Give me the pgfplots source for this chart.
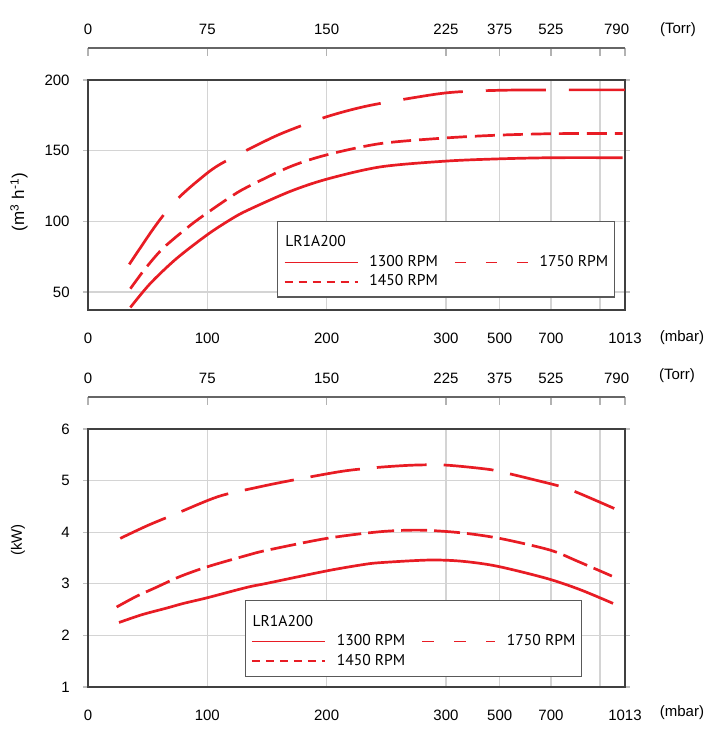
\documentclass[border=0pt]{standalone}
\usepackage{fontspec}
\setmainfont{Liberation Sans}
\newfontfamily\legfont{PT Sans}
\usepackage{pgfplots}
\usepackage{pgfplotstable}
\pgfplotsset{compat=1.18}
\definecolor{cred}{RGB}{232,28,36}

\pgfplotstableread{
u v
0.355 39
0.52 55.8
0.74 73.5
1.00 90.5
1.19 101
1.33 107.5
1.69 121
2.00 129.8
2.45 138.5
3.00 142.6
3.45 144.2
3.90 145
4.48 145
}\topA
\pgfplotstableread{
u v
0.355 52.3
0.48 66.5
0.63 81
0.855 97
1.00 106
1.19 117
1.33 124
1.69 138.5
2.00 147
2.45 155
3.00 159
3.45 161
3.90 162
4.48 162.2
}\topB
\pgfplotstableread{
u v
0.346 69.5
0.534 93.1
0.66 107.3
0.77 117.5
0.925 129
1.10 140
1.47 156.2
1.67 163.8
2.00 174
2.35 181.8
2.87 189.4
3.12 191.7
3.50 192.8
4.00 193
4.51 193
}\topC
\pgfplotstableread{
u v
0.26 2.25
0.45 2.40
0.66 2.53
0.80 2.62
1.00 2.73
1.33 2.93
1.50 3.01
2.00 3.25
2.30 3.37
2.45 3.41
2.85 3.46
3.12 3.44
3.42 3.345
3.84 3.107
4.12 2.89
4.40 2.62
}\botA
\pgfplotstableread{
u v
0.24 2.55
0.40 2.75
0.58 2.94
0.77 3.14
1.00 3.33
1.33 3.55
1.50 3.65
2.00 3.88
2.45 4.01
2.78 4.04
3.12 3.99
3.45 3.88
3.87 3.655
4.10 3.44
4.39 3.15
}\botB
\pgfplotstableread{
u v
0.27 3.88
0.50 4.13
0.73 4.35
1.09 4.69
1.40 4.86
1.65 4.98
2.00 5.13
2.19 5.20
2.45 5.26
2.73 5.30
3.00 5.30
3.35 5.22
3.50 5.15
3.75 5.01
3.97 4.88
4.12 4.75
4.41 4.46
}\botC

\pgfplotsset{
  mainax/.style={
    scale only axis, width=268.5pt, xmin=0, xmax=4.5,
    axis line style={black!75, line width=0.9pt},
    grid=major, grid style={black!17, line width=0.6pt},
    xtick={0,1,2,3,3.45,3.88,4.29,4.5},
    xticklabels={0,100,200,300,500,700,,1013},
    x tick style={draw=none},
    xticklabel style={yshift=-8pt},
    y tick style={black!25, line width=0.6pt},
    ytick align=outside, major tick length=2.5pt,
    yticklabel style={inner sep=0pt, xshift=-6.5pt},
    /pgf/number format/assume math mode=true,
    tick label style={font=\fontsize{7.5}{9}\selectfont},
    legend columns=3, transpose legend,
    legend style={draw=black!65, line width=0.6pt, fill=white,
      inner xsep=3pt, inner ysep=4pt,
      font=\legfont\fontsize{7.8}{9}\selectfont,
      row sep=2.5pt, column sep=5.5pt,
      /tikz/every even column/.append style={column sep=8pt},
      nodes={inner sep=0pt, text height=5.6pt, text depth=1.6pt},
      cells={anchor=west}},
  },
  torrax/.style={
    scale only axis, width=268.5pt, height=10pt, xmin=0, xmax=4.5, ymin=0, ymax=1,
    axis x line=top, axis y line=none,
    axis line style={-, black!60, line width=0.6pt},
    xtick={0,1,2,3,3.45,3.88,4.29,4.5},
    xticklabels={0,75,150,225,375,525,,},
    extra x ticks={4.43}, extra x tick labels={790},
    extra x tick style={major tick length=0pt},
    xtick align=inside, major tick length=4pt,
    x tick style={black!30, line width=0.6pt},
    xticklabel style={font=\fontsize{7.5}{9}\selectfont, yshift=3pt},
  },
  ttl/.style={legend image code/.code={\path (0pt,6.5pt); \node[anchor=west, inner sep=0pt] at (0pt,0pt) {LR1A200};}},
  lg/.style={legend image code/.code={\draw[cred, line width=0.8pt, #1] (0pt,0pt) -- (36.5pt,0pt);}},
}

\begin{document}
\begin{tikzpicture}
\path[use as bounding box] (0,0) rectangle (363pt,365pt);

% ---------- top panel ----------
\begin{axis}[torrax, at={(44pt,341pt)}, anchor=north west]
\addplot[draw=none] coordinates {(0,0)};
\end{axis}
\begin{axis}[mainax, height=115pt, at={(44pt,210pt)}, anchor=south west,
  ymin=37.2, ymax=200, ytick={50,100,150,200},
  legend style={at={(0.3525,0.388)}, anchor=north west}]
\addplot[cred, line width=1.35pt, smooth, forget plot] table[x=u,y=v] {\topA};
\addplot[cred, line width=1.35pt, smooth, dash pattern=on 10pt off 4pt, forget plot] table[x=u,y=v] {\topB};
\addplot[cred, line width=1.35pt, smooth, dash pattern=on 30pt off 11.5pt, forget plot] table[x=u,y=v] {\topC};
\addlegendimage{ttl}\addlegendentry{}
\addlegendimage{lg={solid}}\addlegendentry{1300 RPM}
\addlegendimage{lg={dash pattern=on 4pt off 3pt}}\addlegendentry{1450 RPM}
\addlegendimage{empty legend}\addlegendentry{}
\addlegendimage{lg={dash pattern=on 5.5pt off 10pt}}\addlegendentry{1750 RPM}
\addlegendimage{empty legend}\addlegendentry{}
\end{axis}

% ---------- bottom panel ----------
\begin{axis}[torrax, at={(44pt,166.5pt)}, anchor=north west]
\addplot[draw=none] coordinates {(0,0)};
\end{axis}
\begin{axis}[mainax, height=129pt, at={(44pt,21.5pt)}, anchor=south west,
  ymin=1, ymax=6, ytick={1,2,3,4,5,6},
  legend style={at={(0.2916,0.337)}, anchor=north west}]
\addplot[cred, line width=1.35pt, smooth, forget plot] table[x=u,y=v] {\botA};
\addplot[cred, line width=1.35pt, smooth, dash pattern=on 13pt off 3.5pt, forget plot] table[x=u,y=v] {\botB};
\addplot[cred, line width=1.35pt, smooth, dash pattern=on 25pt off 8.5pt, forget plot] table[x=u,y=v] {\botC};
\addlegendimage{ttl}\addlegendentry{}
\addlegendimage{lg={solid}}\addlegendentry{1300 RPM}
\addlegendimage{lg={dash pattern=on 4pt off 3pt}}\addlegendentry{1450 RPM}
\addlegendimage{empty legend}\addlegendentry{}
\addlegendimage{lg={dash pattern=on 6pt off 10pt}}\addlegendentry{1750 RPM}
\addlegendimage{empty legend}\addlegendentry{}
\end{axis}

% unit labels
\node[font=\fontsize{7.5}{9}\selectfont] at (339pt,350pt) {(Torr)};
\node[font=\fontsize{7.5}{9}\selectfont] at (341pt,196pt) {(mbar)};
\node[font=\fontsize{7.5}{9}\selectfont] at (338.5pt,177pt) {(Torr)};
\node[font=\fontsize{7.5}{9}\selectfont] at (341pt,8.5pt) {(mbar)};
\node[font=\fontsize{8.5}{10}\selectfont, rotate=90] at (9.5pt,264pt) {(m\textsuperscript{3} h\textsuperscript{-1})};
\node[font=\fontsize{7.5}{9}\selectfont, rotate=90] at (9pt,95pt) {(kW)};
\end{tikzpicture}
\end{document}
